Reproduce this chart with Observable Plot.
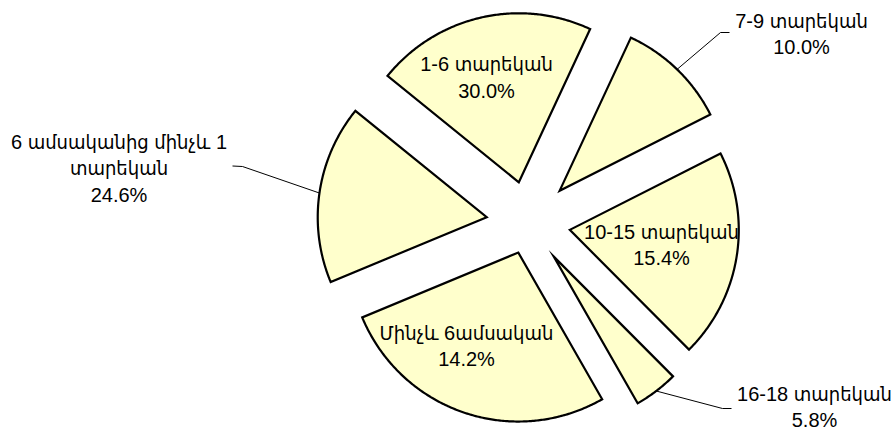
<!DOCTYPE html>
<html>
<head>
<meta charset="utf-8">
<script src="https://cdn.jsdelivr.net/npm/d3@7"></script>
<script src="https://cdn.jsdelivr.net/npm/@observablehq/plot@0.6"></script>
<style>
  html, body { margin: 0; padding: 0; background: #fff; }
  #chart svg { display: block; }
</style>
</head>
<body>
<div id="chart"></div>
<script>
// ---- data ----
const categories = [
  "1-6 տարեկան",
  "7-9 տարեկան",
  "10-15 տարեկան",
  "16-18 տարեկան",
  "Մինչև 6ամսական",
  "6 ամսականից մինչև 1 տարեկան"
];
// slice sizes as drawn in the picture (share of the circle, %)
const shares = [21.1, 10.6, 20.0, 4.2, 27.0, 17.1];
// data label texts printed on the chart
const labelNames = [
  "1-6 տարեկան",
  "7-9 տարեկան",
  "10-15 տարեկան",
  "16-18 տարեկան",
  "Մինչև 6ամսական",
  "6 ամսականից մինչև 1\nտարեկան"
];
const labelPercents = ["30.0%", "10.0%", "15.4%", "5.8%", "14.2%", "24.6%"];

// ---- layout ----
const W = 895, H = 432;
const center = {x: 527.8, y: 222.7};
const radius = 169;
const startDeg = -51;
const explode = [42, 45, 42, 42, 31, 42];
const labelAt = [
  {x: 486, y: 75.5},
  {x: 801, y: 32},
  {x: 661, y: 243},
  {x: 814, y: 405},
  {x: 466, y: 344},
  {x: 118.5, y: 166.3}
];
// leader lines for outside labels: [elbow, end]
const leaders = {
  1: [{x: 720, y: 32}, {x: 729, y: 32}],
  3: [{x: 722, y: 408}, {x: 731, y: 408}],
  5: [{x: 242, y: 166}, {x: 232, y: 165.5}]
};

const pie = d3.pie().value(d => d).sort(null)
  .startAngle(startDeg * Math.PI / 180)
  .endAngle(startDeg * Math.PI / 180 + 2 * Math.PI);
const arcs = pie(shares);
const u = a => [Math.sin(a), -Math.cos(a)];

const slicePts = [];
arcs.forEach((a, i) => {
  const mid = (a.startAngle + a.endAngle) / 2;
  const [mx, my] = u(mid);
  const tx = center.x + explode[i] * mx, ty = center.y + explode[i] * my;
  slicePts.push({slice: categories[i], x: tx, y: ty});
  const n = Math.max(4, Math.ceil((a.endAngle - a.startAngle) / (0.5 * Math.PI / 180)));
  for (let k = 0; k <= n; k++) {
    const t = a.startAngle + (a.endAngle - a.startAngle) * k / n;
    const [ux, uy] = u(t);
    slicePts.push({slice: categories[i], x: tx + radius * ux, y: ty + radius * uy});
  }
});

const leaderPts = [];
Object.entries(leaders).forEach(([k, pts]) => {
  const i = +k, a = arcs[i];
  const mid = (a.startAngle + a.endAngle) / 2;
  const [mx, my] = u(mid);
  const d = explode[i] + radius;
  leaderPts.push({id: i, x: center.x + d * mx, y: center.y + d * my});
  pts.forEach(p => leaderPts.push({id: i, x: p.x, y: p.y}));
});

const labels = categories.map((c, i) => ({
  x: labelAt[i].x, y: labelAt[i].y,
  text: labelNames[i] + "\n" + labelPercents[i]
}));

const chart = Plot.plot({
  width: W, height: H, margin: 0,
  style: {background: "#fff"},
  x: {domain: [0, W], range: [0, W], axis: null},
  y: {domain: [0, H], range: [0, H], axis: null},
  marks: [
    Plot.line(slicePts, {
      x: "x", y: "y", z: "slice", curve: "linear-closed",
      fill: "#ffffcc", stroke: "#000", strokeWidth: 2.2,
      strokeLinejoin: "miter", strokeMiterlimit: 10
    }),
    Plot.line(leaderPts, {
      x: "x", y: "y", z: "id", stroke: "#000", strokeWidth: 1,
      strokeLinejoin: "miter", strokeLinecap: "butt"
    }),
    Plot.text(labels, {
      x: "x", y: "y", text: "text",
      fontSize: 20, lineHeight: 1.32, fill: "#000",
      fontFamily: "'Liberation Sans', Arial, 'DejaVu Sans Condensed', 'DejaVu Sans', sans-serif"
    })
  ]
});
document.getElementById("chart").appendChild(chart);
</script>
</body>
</html>
